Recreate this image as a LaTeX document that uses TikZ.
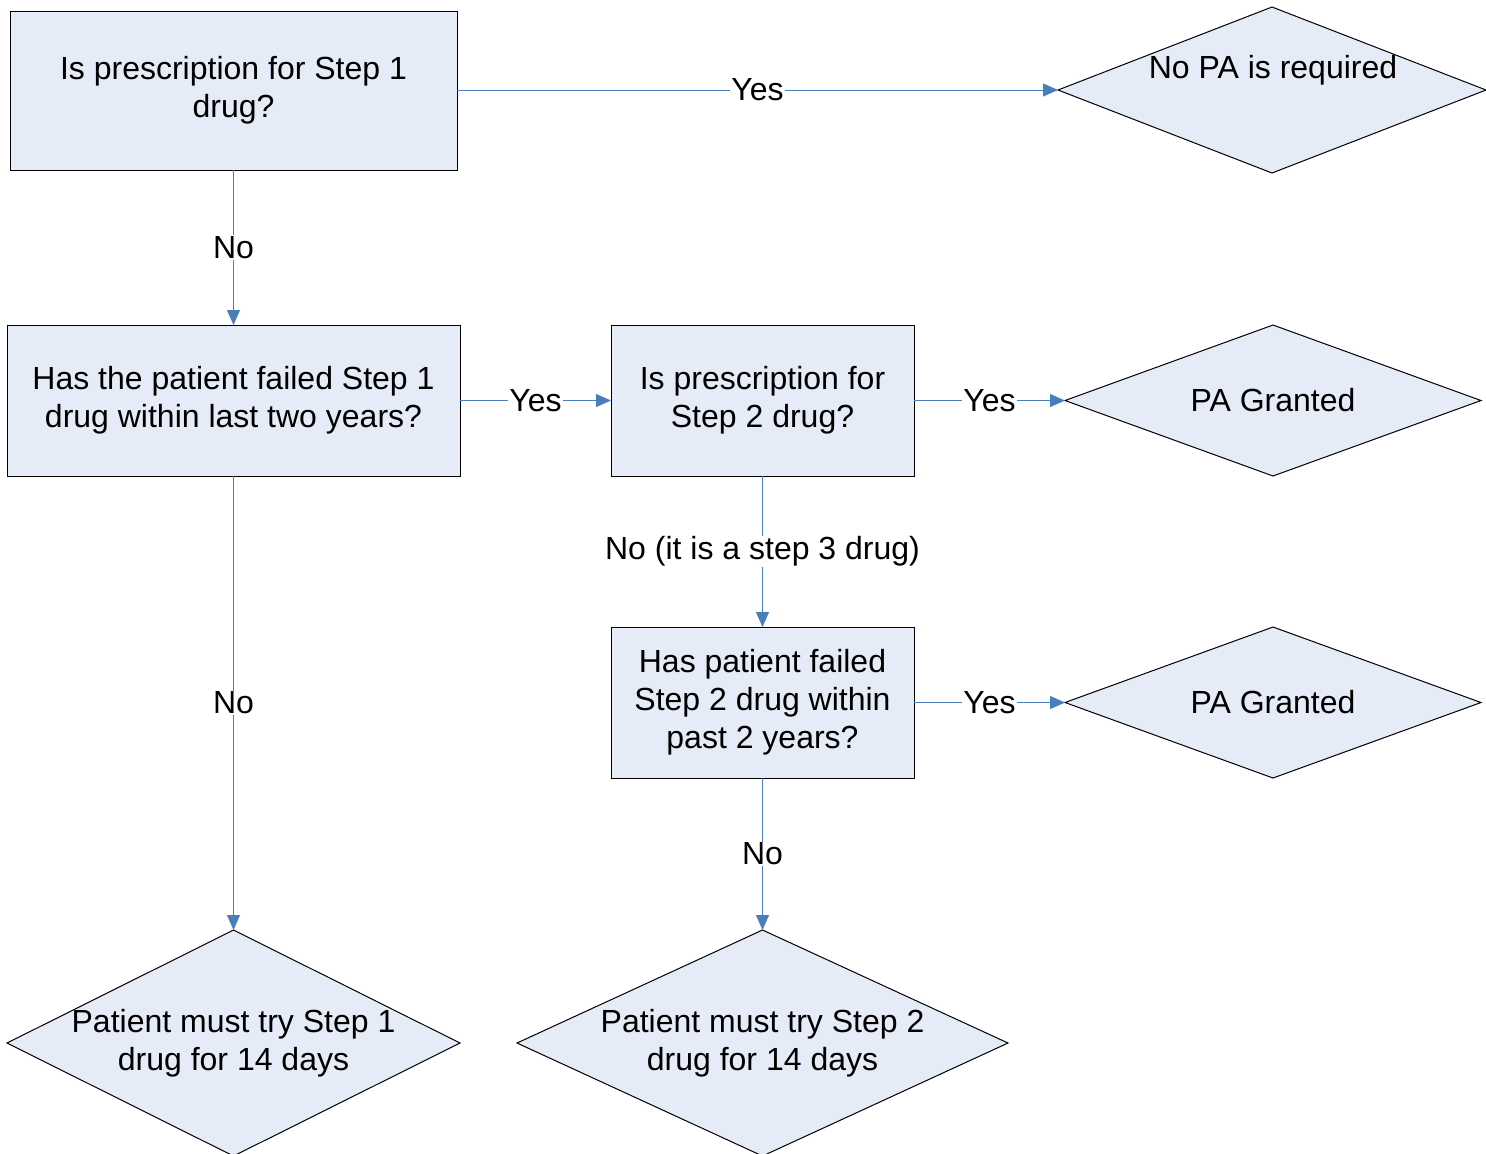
\documentclass[tikz,border=0pt]{standalone}
\usepackage{fontspec}
\setmainfont{Liberation Sans}
\usetikzlibrary{arrows.meta,shapes.geometric}
\definecolor{boxfill}{RGB}{230,236,247}
\definecolor{connblue}{RGB}{74,126,187}
\tikzset{
  qbox/.style={draw=black, fill=boxfill, line width=0.5pt, rectangle, inner sep=0pt, outer sep=0pt, align=center},
  diam/.style={draw=black, fill=boxfill, line width=0.5pt, diamond, inner sep=0pt, outer sep=0pt},
  dtext/.style={align=center, inner sep=0pt},
  conn/.style={draw=connblue, line width=0.5pt, -{Triangle[length=7.5pt,width=6.5pt]}},
  lbl/.style={fill=white, inner sep=0.5pt, text=black},
}
\begin{document}
\begin{tikzpicture}[x=0.5pt,y=-0.5pt, font=\fontsize{16pt}{19pt}\selectfont]
\clip (0,0) rectangle (1486,1153);
\fill[white] (0,0) rectangle (1486,1153);
% boxes
\node[qbox, minimum width=223.5pt, minimum height=79.5pt] (b1) at (233.5,90.5) {Is prescription for Step 1\\drug?};
\node[qbox, minimum width=226.5pt, minimum height=75.5pt] (b2) at (233.5,400.5) {Has the patient failed Step 1\\drug within last two years?};
\node[qbox, minimum width=151.5pt, minimum height=75.5pt] (b3) at (762.5,400.5) {Is prescription for\\Step 2 drug?};
\node[qbox, minimum width=151.5pt, minimum height=75.5pt] (b4) at (762.5,702.5) {Has patient failed\\Step 2 drug within\\past 2 years?};
% diamonds
\node[diam, minimum width=214pt, minimum height=83pt] (d1) at (1272,90) {};
\node[dtext] (t1) at (1273,70) {No PA is required};
\node[diam, minimum width=208pt, minimum height=75.5pt] (d2) at (1273,400.5) {};
\node[dtext] (t2) at (d2.center) {PA Granted};
\node[diam, minimum width=208pt, minimum height=75.5pt] (d3) at (1273,702.5) {};
\node[dtext] (t3) at (d3.center) {PA Granted};
\node[diam, minimum width=226.5pt, minimum height=113pt] (d4) at (233.5,1043) {};
\node[dtext] (t4) at (233.5,1043) {Patient must try Step 1\\drug for 14 days};
\node[diam, minimum width=245.5pt, minimum height=113pt] (d5) at (762.5,1043) {};
\node[dtext] (t5) at (762.5,1043) {Patient must try Step 2\\drug for 14 days};
% connectors
\draw[conn] (b1.east |- d1.west) -- node[lbl]{Yes} (d1.west);
\draw[conn] (b1) -- node[lbl]{No} (b2);
\draw[conn] (b2) -- node[lbl]{Yes} (b3);
\draw[conn] (b3) -- node[lbl]{Yes} (d2.west);
\draw[conn] (b3) -- node[lbl]{No (it is a step 3 drug)} (b4);
\draw[conn] (b4) -- node[lbl]{Yes} (d3.west);
\draw[conn] (b2) -- node[lbl]{No} (d4.north);
\draw[conn] (b4) -- node[lbl]{No} (d5.north);
\end{tikzpicture}
\end{document}
